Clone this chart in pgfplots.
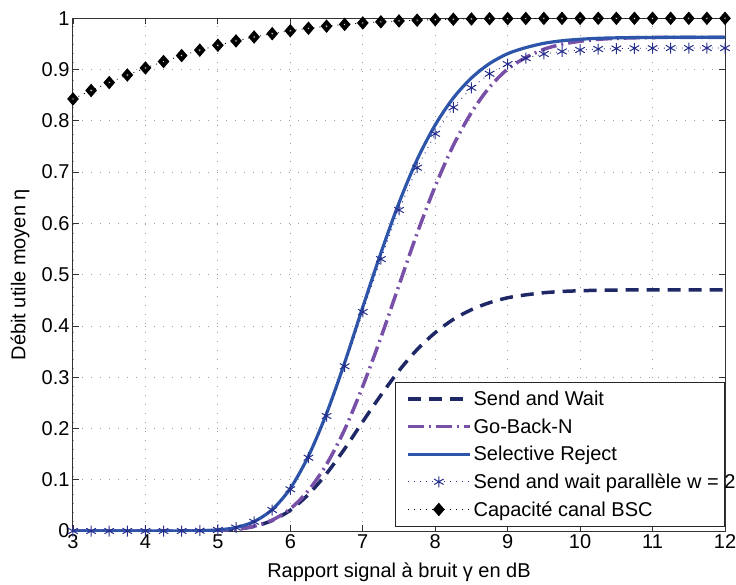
\documentclass[border=0pt]{standalone}
\usepackage{fontspec}
\setmainfont{Liberation Sans}
\usepackage{pgfplots}
\pgfplotsset{compat=1.18}
\usepackage{pgfplotstable}
\definecolor{swc}{RGB}{31,40,102}
\definecolor{gbnc}{RGB}{120,80,168}
\definecolor{src}{RGB}{45,85,170}
\definecolor{swpc}{RGB}{38,46,140}
\newcommand\lbl{\fontsize{20}{23}\selectfont}
\pgfplotstableread{
x sw gbn sr swp bsc
3.00 0 0 0 0 0.8427
3.25 0 0 0 0 0.8592
3.50 0 0 0 0 0.8747
3.75 0 0 0 0 0.8894
4.00 0 0 0 0 0.9031
4.25 0 0 0 0 0.9157
4.50 0 0 0 0 0.9273
4.75 0.0003 0.0001 0.0005 0.0005 0.9379
5.00 0.0010 0.0011 0.0021 0.0021 0.9474
5.25 0.0033 0.0034 0.0068 0.0067 0.9559
5.50 0.0090 0.0093 0.0184 0.0180 0.9635
5.75 0.0204 0.0213 0.0418 0.0409 0.9700
6.00 0.0406 0.0434 0.0831 0.0813 0.9757
6.25 0.0714 0.0791 0.1461 0.1429 0.9806
6.50 0.1120 0.1301 0.2293 0.2243 0.9847
6.75 0.1604 0.1979 0.3284 0.3212 0.9881
7.00 0.2134 0.2824 0.4367 0.4272 0.9909
7.25 0.2649 0.3773 0.5422 0.5303 0.9931
7.50 0.3127 0.4793 0.6400 0.6261 0.9949
7.75 0.3539 0.5805 0.7244 0.7086 0.9963
8.00 0.3869 0.6725 0.7920 0.7747 0.9974
8.25 0.4127 0.7522 0.8446 0.8262 0.9982
8.50 0.4317 0.8163 0.8836 0.8644 0.9987
8.75 0.4454 0.8656 0.9117 0.8918 0.9992
9.00 0.4549 0.9011 0.9310 0.9107 0.9995
9.25 0.4606 0.9234 0.9428 0.9222 0.9997
9.50 0.4647 0.9396 0.9512 0.9304 0.9998
9.75 0.4672 0.9494 0.9562 0.9353 0.9999
10.00 0.4686 0.9553 0.9591 0.9382 1
10.25 0.4695 0.9590 0.9610 0.9400 1
10.50 0.4700 0.9609 0.9619 0.9410 1
10.75 0.4703 0.9620 0.9625 0.9415 1
11.00 0.4704 0.9625 0.9627 0.9417 1
11.25 0.4705 0.9628 0.9629 0.9419 1
11.50 0.4705 0.9630 0.9630 0.9420 1
11.75 0.4705 0.9630 0.9630 0.9420 1
12.00 0.4705 0.9630 0.9630 0.9420 1
}\data
\begin{document}
\begin{tikzpicture}
\useasboundingbox (-73pt,-53pt) rectangle (663pt,531pt);
\begin{axis}[
  at={(0,0)}, anchor=south west,
  scale only axis, width=652pt, height=512.7pt,
  xmin=3, xmax=12, ymin=0, ymax=1,
  xtick={3,4,5,6,7,8,9,10,11,12},
  ytick={0,0.1,0.2,0.3,0.4,0.5,0.6,0.7,0.8,0.9,1},
  yticklabel style={/pgf/number format/fixed, /pgf/number format/precision=1},
  /pgf/number format/assume math mode=true,
  tick label style={font=\lbl},
  tick align=inside, xtick pos=both, ytick pos=both,
  major tick length=6pt,
  tick style={black!80, line width=0.8pt},
  axis line style={black!80, line width=1pt},
  grid=major,
  major grid style={gray!75, line width=0.8pt, dash pattern=on 0.9pt off 8.1pt},
  xlabel={Rapport signal à bruit γ en dB},
  ylabel={Débit utile moyen η},
  xlabel style={at={(axis description cs:0.5,-0.080)}, anchor=center, font=\lbl},
  ylabel style={at={(axis description cs:-0.081,0.5)}, anchor=center, font=\lbl},
  legend cell align=left,
  legend style={at={(1,0)}, anchor=south east, yshift=4pt, draw=black!85, line width=0.8pt, fill=white, font=\lbl, row sep=7.5pt, inner xsep=11pt, inner ysep=7pt},
  legend image code/.code={\draw[mark repeat=2,mark phase=2,#1] plot coordinates {(0pt,0pt) (31pt,0pt) (62pt,0pt)};},
]
\addplot[swc, line width=3.5pt, dash pattern=on 13pt off 8pt, smooth] table[x=x,y=sw]{\data};
\addlegendentry{Send and Wait}
\addplot[gbnc, line width=3.5pt, dash pattern=on 16pt off 5pt on 2pt off 5pt, smooth] table[x=x,y=gbn]{\data};
\addlegendentry{Go-Back-N}
\addplot[src, line width=3.2pt, smooth] table[x=x,y=sr]{\data};
\addlegendentry{Selective Reject}
\addplot[swpc, line width=0.8pt, dash pattern=on 1pt off 5pt, mark=asterisk, mark size=5.5pt, mark options={solid, line width=1pt}] table[x=x,y=swp]{\data};
\addlegendentry{\makebox[238pt][l]{Send and wait parallèle w = 2}}
\addplot[black, line width=0.8pt, dash pattern=on 1pt off 5pt, mark=diamond*, mark size=6pt, mark options={solid, xscale=1.15, fill=black, draw=black, line width=1pt}] table[x=x,y=bsc]{\data};
\addlegendentry{Capacité canal BSC}
\addplot[only marks, mark=*, mark size=1.2pt, mark options={fill=white, draw=none}, forget plot] table[x=x,y=bsc]{\data};
\end{axis}
\end{tikzpicture}
\end{document}
